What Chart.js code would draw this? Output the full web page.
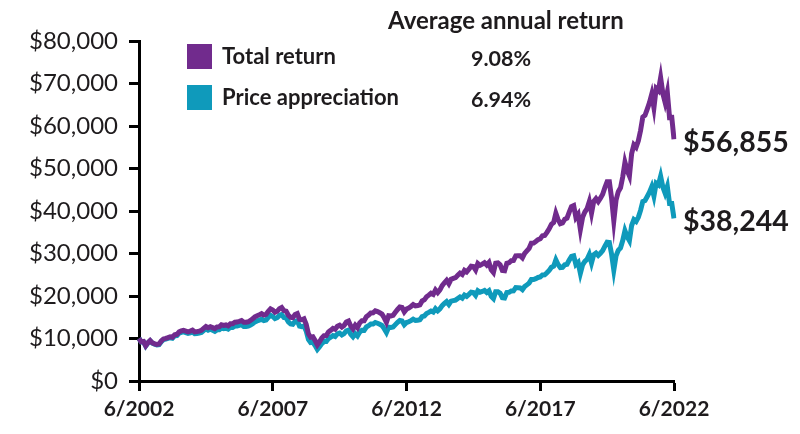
<!DOCTYPE html>
<html lang="en">
<head>
    <meta charset="UTF-8">
    <title>Growth of $10,000</title>
    <script src="https://cdn.jsdelivr.net/npm/chart.js"></script>
    <style>
        html, body {
            margin: 0;
            padding: 0;
            background: #ffffff;
        }

        .container {
            position: relative;
            width: 800px;
            height: 434px;
        }
    </style>
</head>
<body>

    <div class="container">
        <canvas id="graficoCrecimiento" width="800" height="434"></canvas>
    </div>

    <script>
        // Month-end values, 6/2002 .. 6/2022 (hypothetical $10,000)
        const precio = [
            10000, 9210, 9255, 8237, 8949, 9459, 8889,
            8645, 8499, 8569, 9263, 9735, 9845, 10005, 10184, 10063, 10615, 10691, 11233,
            11427, 11567, 11378, 11187, 11322, 11525, 11130, 11156, 11261, 11418, 11859, 12244,
            11935, 12160, 11928, 11688, 12038, 12036, 12469, 12329, 12414, 12194, 12624, 12611,
            12933, 12939, 13082, 13241, 12832, 12833, 12898, 13172, 13496, 13921, 14150, 14329,
            14530, 14213, 14355, 14977, 15464, 15189, 14703, 14892, 15425, 15654, 14963, 14835,
            13928, 13443, 13363, 13999, 14148, 12932, 12805, 12960, 11784, 9788, 9054, 9126,
            8344, 7427, 8061, 8818, 9286, 9288, 9977, 10311, 10680, 10469, 11069, 11266,
            10850, 11159, 11814, 11989, 11006, 10413, 11129, 10601, 11529, 11955, 11928, 12705,
            12993, 13409, 13394, 13776, 13591, 13342, 13056, 12315, 11431, 12662, 12597, 12705,
            13259, 13798, 14230, 14123, 13238, 13762, 13935, 14211, 14555, 14268, 14308, 14409,
            15135, 15303, 15854, 16140, 16475, 16228, 17030, 16498, 16989, 17746, 18244, 18674,
            18010, 18786, 18916, 19034, 19434, 19804, 19506, 20240, 19926, 20389, 20889, 20801,
            20155, 21262, 20892, 21070, 21291, 20843, 21255, 19925, 19398, 21008, 21018, 20649,
            19602, 19521, 20809, 20866, 21186, 21205, 21960, 21933, 21906, 21481, 22216, 22618,
            23024, 23880, 23870, 24088, 24366, 24484, 24957, 24971, 25453, 26018, 26749, 27011,
            28529, 27417, 26681, 26753, 27331, 27464, 28453, 29314, 29440, 27396, 27886, 25327,
            27319, 28132, 28636, 29761, 27804, 29721, 30111, 29566, 30074, 30689, 31733, 32641,
            32587, 29846, 26112, 29424, 30756, 31322, 33047, 35363, 33976, 33036, 36589, 37948,
            37524, 38504, 40138, 42242, 42474, 43417, 44405, 45692, 43518, 46528, 46140, 48152,
            45620, 44189, 45770, 41744, 41747, 38244
        ];

        const total = [
            10000, 9225, 9285, 8277, 9005, 9534, 8973,
            8741, 8607, 8692, 9411, 9906, 10034, 10213, 10412, 10306, 10888, 10983, 11558,
            11776, 11937, 11760, 11580, 11738, 11966, 11573, 11618, 11744, 11926, 12405, 12827,
            12523, 12780, 12555, 12323, 12712, 12730, 13208, 13081, 13192, 12979, 13457, 13465,
            13831, 13859, 14034, 14227, 13810, 13834, 13926, 14244, 14618, 15101, 15374, 15593,
            15836, 15516, 15696, 16403, 16962, 16688, 16179, 16412, 17028, 17307, 16570, 16453,
            15481, 14975, 14918, 15662, 15864, 14532, 14420, 14627, 13328, 11094, 10284, 10388,
            9518, 8490, 9234, 10122, 10682, 10706, 11524, 11935, 12388, 12168, 12892, 13149,
            12685, 13067, 13858, 14087, 12954, 12276, 13142, 12540, 13660, 14188, 14180, 15128,
            15498, 16022, 16033, 16519, 16326, 16055, 15738, 14870, 13827, 15343, 15290, 15448,
            16152, 16839, 17399, 17299, 16246, 16920, 17164, 17536, 17994, 17671, 17753, 17910,
            18846, 19089, 19811, 20204, 20660, 20385, 21429, 20796, 21452, 22447, 23117, 23703,
            22898, 23926, 24131, 24323, 24876, 25393, 25051, 26037, 25677, 26316, 27007, 26937,
            26149, 27636, 27206, 27488, 27827, 27292, 27882, 26186, 25539, 27710, 27773, 27335,
            25998, 25938, 27701, 27827, 28307, 28383, 29448, 29465, 29483, 28963, 30009, 30607,
            31209, 32424, 32466, 32815, 33250, 33467, 34171, 34248, 34965, 35801, 36868, 37291,
            39453, 37981, 37023, 37184, 38053, 38301, 39746, 41016, 41263, 38461, 39213, 35673,
            38544, 39756, 40537, 42201, 39493, 42284, 42911, 42205, 43000, 43953, 45524, 46902,
            46899, 43023, 37701, 42551, 44547, 45439, 48017, 51464, 49524, 48229, 53501, 55575,
            55010, 56505, 58959, 62113, 62518, 63971, 65489, 67455, 64311, 68829, 68320, 71371,
            67654, 65563, 67946, 61998, 62036, 56855
        ];

        // Month labels 6/2002 .. 6/2022
        const meses = [];
        for (let a = 2002, m = 6; a < 2022 || (a === 2022 && m <= 6); m++) {
            if (m > 12) { m = 1; a++; }
            meses.push(m + '/' + a);
        }
        const etiquetasX = ['6/2002', '6/2007', '6/2012', '6/2017', '6/2022'];

        const nombres = ['Total return', 'Price appreciation'];
        const retornos = ['9.08%', '6.94%'];
        const finales = ['$56,855', '$38,244'];
        const colores = ['#712b8d', '#0f9abb'];
        const tituloRetorno = 'Average annual return';

        const texto = '#1e1b1d';

        const leyenda = {
            id: 'leyenda',
            afterDraw(chart) {
                const ctx = chart.ctx;
                ctx.save();
                ctx.fillStyle = texto;
                ctx.textBaseline = 'middle';

                ctx.font = 'bold 24px Lato';
                ctx.textAlign = 'left';
                ctx.fillText(tituloRetorno, 388, 21);

                nombres.forEach((n, i) => {
                    const y = 56 + i * 41;
                    ctx.fillStyle = colores[i];
                    ctx.fillRect(187, y - 12, 25, 25);
                    ctx.fillStyle = texto;
                    ctx.font = 'bold 22px Lato';
                    ctx.fillText(n, 222, y + 1);
                    ctx.font = 'bold 21.5px Lato';
                    ctx.fillText(retornos[i], 471, y + 3);
                });

                ctx.font = 'bold 28.5px Lato';
                finales.forEach((f, i) => {
                    const meta = chart.getDatasetMeta(i);
                    const p = meta.data[meta.data.length - 1];
                    ctx.fillText(f, chart.chartArea.right + 9, p.y + 3);
                });
                ctx.restore();
            }
        };

        const ctx = document.getElementById('graficoCrecimiento').getContext('2d');
        new Chart(ctx, {
            type: 'line',
            data: {
                labels: meses,
                datasets: [{
                    label: nombres[0],
                    data: total,
                    borderColor: colores[0],
                    borderWidth: 5,
                    pointRadius: 0,
                    tension: 0
                }, {
                    label: nombres[1],
                    data: precio,
                    borderColor: colores[1],
                    borderWidth: 5,
                    pointRadius: 0,
                    tension: 0
                }]
            },
            options: {
                responsive: false,
                animation: false,
                layout: {
                    padding: { top: 41, right: 126, left: 0, bottom: 0 }
                },
                plugins: {
                    legend: { display: false },
                    tooltip: { enabled: false }
                },
                scales: {
                    x: {
                        afterFit: s => { s.height = 53; },
                        border: { color: '#000', width: 3 },
                        grid: {
                            drawOnChartArea: false,
                            tickColor: '#000',
                            tickWidth: 3,
                            tickLength: 10
                        },
                        ticks: {
                            autoSkip: false,
                            maxRotation: 0,
                            padding: 6,
                            color: texto,
                            font: { family: 'Lato', size: 21, weight: 'bold' },
                            callback: function (v) {
                                const l = this.getLabelForValue(v);
                                return etiquetasX.includes(l) ? l : null;
                            }
                        }
                    },
                    y: {
                        min: 0,
                        max: 80000,
                        afterFit: s => { s.width = 139; },
                        border: { color: '#000', width: 3 },
                        grid: {
                            drawOnChartArea: false,
                            tickColor: '#000',
                            tickWidth: 3,
                            tickLength: 10
                        },
                        ticks: {
                            stepSize: 10000,
                            padding: 11,
                            color: texto,
                            font: { family: 'Lato', size: 24 },
                            callback: v => '$' + v.toLocaleString('en-US')
                        }
                    }
                }
            },
            plugins: [leyenda]
        });
    </script>
</body>
</html>
